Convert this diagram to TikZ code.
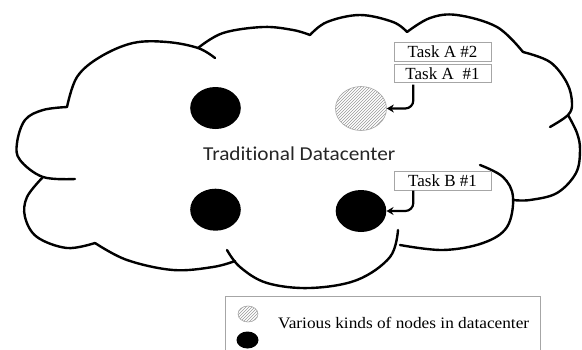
\documentclass[tikz,border=0pt]{standalone}
\usepackage{fontspec}
\setmainfont{Liberation Serif}
\newfontfamily\calib[FakeStretch=1.08, Ligatures=NoCommon]{Carlito}
\newfontfamily\legfont[FakeStretch=1.08]{Liberation Serif}
\usetikzlibrary{shapes.geometric,patterns,arrows.meta}
\begin{document}
\begin{tikzpicture}[x=1pt,y=-1pt,
  lobe/.style={line width=2.4pt, line cap=round, line join=round},
  blk/.style={ellipse, fill=black, inner sep=0pt, minimum width=50.6pt, minimum height=42pt},
  hatchnode/.style={ellipse, draw=gray!70, line width=0.6pt, pattern=north east lines, pattern color=gray!80, inner sep=0pt, minimum width=51pt, minimum height=44pt},
  taskbox/.style={draw=gray!70, line width=1pt, minimum width=97pt, minimum height=18.4pt, inner sep=0pt, font=\fontsize{17}{18}\selectfont},
  conn/.style={line width=2.2pt, rounded corners=8pt, -{Stealth[length=7pt,width=8pt]}},
  legendbox/.style={draw=gray!70, line width=1pt, minimum width=315pt, minimum height=70pt, inner sep=0pt}
]
\useasboundingbox (0,0) rectangle (582,349);
\clip (0,0) rectangle (582,349);

% cloud lobes
\draw[lobe] plot[smooth, tension=0.6] coordinates {(67,107) (43,110) (25,120) (17,143) (20,160) (43,177) (75,179)};
\draw[lobe] plot[smooth, tension=0.6] coordinates {(67,107) (77,77) (100,57) (133,43) (167,42) (198,48) (215,58)};
\draw[lobe] plot[smooth, tension=0.6] coordinates {(198,48) (223,33) (263,27) (293,30) (310,35)};
\draw[lobe] plot[smooth, tension=0.6] coordinates {(310,35) (327,22) (360,15) (393,22) (407,32)};
\draw[lobe] plot[smooth, tension=0.6] coordinates {(407,32) (430,18) (457,15) (497,27) (523,52)};
\draw[lobe] plot[smooth, tension=0.6] coordinates {(523,52) (550,62) (567,83) (572,103) (568,115) (550,127)};
\draw[lobe] plot[smooth, tension=0.6] coordinates {(568,115) (577,133) (580,150) (576,173) (557,193) (530,200) (513,200)};
\draw[lobe] plot[smooth, tension=0.6] coordinates {(480,165) (503,177) (513,197) (507,227) (483,243) (443,250) (400,245)};
\draw[lobe] plot[smooth, tension=0.6] coordinates {(398,230) (390,257) (357,280) (310,288) (267,283) (240,267) (227,250)};
\draw[lobe] plot[smooth, tension=0.6] coordinates {(235,261) (213,267) (173,270) (127,260) (95,243)};
\draw[lobe] plot[smooth, tension=0.6] coordinates {(95,243) (67,248) (37,237) (25,217) (27,197) (43,177)};

% datacenter nodes
\node[blk] (n1) at (215.5,108) {};
\node[hatchnode] (n2) at (361,108.5) {};
\node[blk] (n3) at (215.5,209.7) {};
\node[blk] (n4) at (361,211) {};

\node[anchor=base, font=\calib\fontsize{19.7}{22}\selectfont, text=black!85] (title) at (299.3,160) {Traditional Datacenter};

% task boxes
\node[taskbox] (tA2) at (442.5,52) {Task A \#2};
\node[taskbox] (tA1) at (442.5,73.5) {Task A\hspace{4.5pt} \#1};
\node[taskbox] (tB1) at (442.5,181) {Task B \#1};

\coordinate (sA) at (413.3,84.5);
\coordinate (sB) at (413.3,190.5);
\draw[conn] (sA) |- (n2.east);
\draw[conn] (sB) |- (n4.east);

% legend
\node[legendbox, anchor=north west] (legend) at (225,296) {};
\node[hatchnode, minimum width=20pt, minimum height=16pt] (lh) at (248,314) {};
\node[blk, minimum width=22pt, minimum height=17pt] (lb) at (247.5,340) {};
\node[anchor=base west, font=\legfont\fontsize{16}{18}\selectfont] (legtext) at (274.7,328.3) {Various kinds of nodes in datacenter};
\end{tikzpicture}
\end{document}
